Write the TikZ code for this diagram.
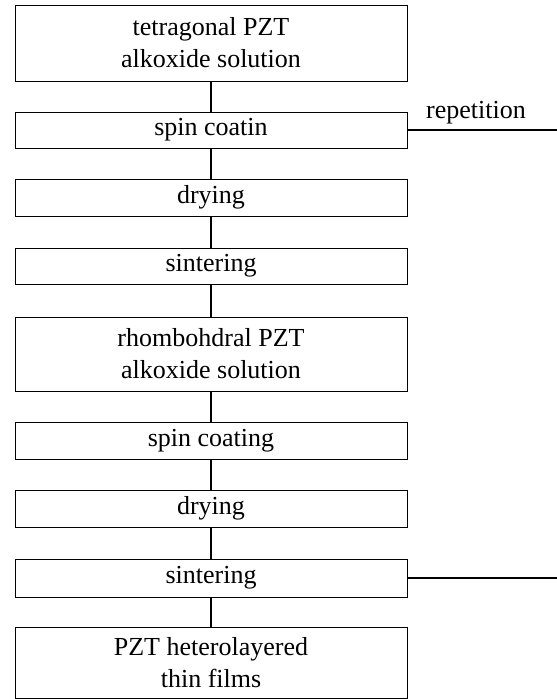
\documentclass[tikz,border=0pt]{standalone}
\usepackage{fontspec}
\setmainfont{Liberation Serif}

\begin{document}
\begin{tikzpicture}[x=1pt, y=-1pt,
    stage/.style={draw, line width=1pt, minimum width=392pt, inner sep=0pt,
        align=center, font=\fontsize{26}{32}\selectfont},
    link/.style={line width=1.6pt}]
        % Page frame
        \useasboundingbox (0,0) rectangle (557,699);

        % First layer: tetragonal solution
        \node[stage, minimum height=76pt] (tetra) at (211,43) {tetragonal PZT\\alkoxide solution};
        \node[stage, minimum height=36pt] (spinA) at (211,130) {spin coatin};
        \node[stage, minimum height=37pt] (dryA) at (211,197.5) {drying};
        \node[stage, minimum height=36pt] (sinterA) at (211,266) {sintering};

        % Second layer: rhombohedral solution
        \node[stage, minimum height=74pt] (rhombo) at (211,354) {rhombohdral PZT\\alkoxide solution};
        \node[stage, minimum height=37pt] (spinB) at (211,440.5) {spin coating};
        \node[stage, minimum height=37pt] (dryB) at (211,508.5) {drying};
        \node[stage, minimum height=38pt] (sinterB) at (211,578) {sintering};

        % Result
        \node[stage, minimum height=71pt] (films) at (211,662.5) {PZT heterolayered\\thin films};

        % Vertical links between stages
        \draw[link] (tetra) -- (spinA);
        \draw[link] (spinA) -- (dryA);
        \draw[link] (dryA) -- (sinterA);
        \draw[link] (sinterA) -- (rhombo);
        \draw[link] (rhombo) -- (spinB);
        \draw[link] (spinB) -- (dryB);
        \draw[link] (dryB) -- (sinterB);
        \draw[link] (sinterB) -- (films);

        % Repetition lines on the right
        \coordinate (repA) at (557,130);
        \coordinate (repB) at (557,578);
        \draw[link] (spinA.east) -- (repA);
        \draw[link] (sinterB.east) -- (repB);
        \node[font=\fontsize{26}{32}\selectfont, anchor=base] (rep) at (476,118) {repetition};
        
    \end{tikzpicture}
\end{document}
